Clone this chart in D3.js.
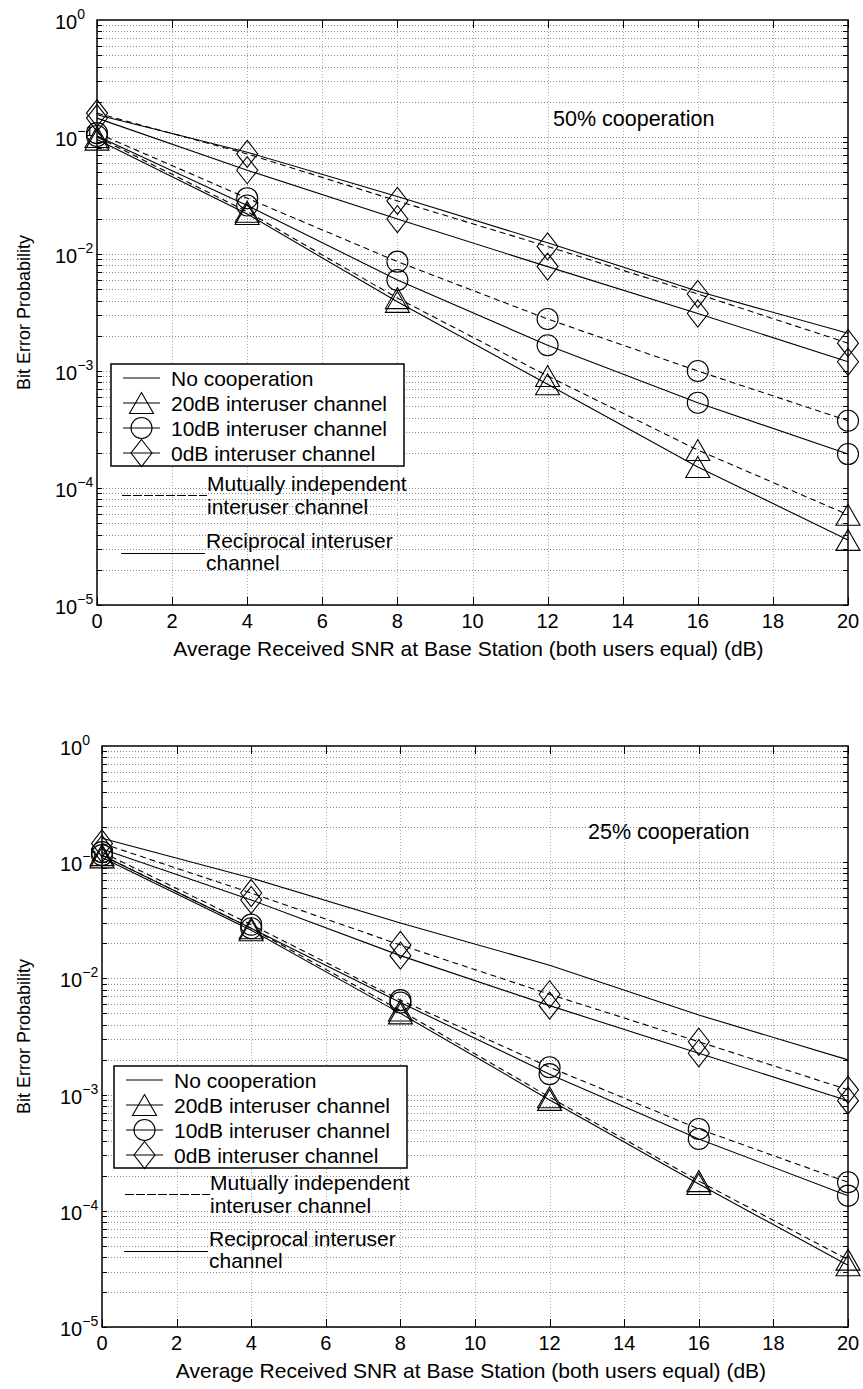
<!DOCTYPE html>
<html>
<head>
<meta charset="utf-8">
<script src="https://cdn.jsdelivr.net/npm/d3@7"></script>
<style>
  body { margin: 0; background: #fff; }
  svg text { font-family: "Liberation Sans", Arial, Helvetica, sans-serif; fill: #000; }
</style>
</head>
<body>
<div id="chart"></div>
<script>
// x values (SNR in dB) where markers sit
var snr = [0, 4, 8, 12, 16, 20];
var xTicks = [0, 2, 4, 6, 8, 10, 12, 14, 16, 18, 20];
var yExponents = [0, -1, -2, -3, -4, -5];

// 50% cooperation (top panel)
var noCoop50 = [0.155, 0.074, 0.031, 0.0125, 0.0048, 0.0021];
var ind0dB50 = [0.16, 0.0717, 0.0284, 0.0116, 0.00455, 0.00173];
var rec0dB50 = [0.145, 0.052, 0.0199, 0.0078, 0.0031, 0.0012];
var ind10dB50 = [0.108, 0.030, 0.0086, 0.00278, 0.0010, 0.000376];
var rec10dB50 = [0.102, 0.026, 0.0060, 0.00166, 0.000536, 0.000195];
var ind20dB50 = [0.100, 0.023, 0.0042, 0.000906, 0.000211, 0.000059];
var rec20dB50 = [0.095, 0.022, 0.0039, 0.00077, 0.000151, 0.000036];

// 25% cooperation (bottom panel)
var noCoop25 = [0.161, 0.073, 0.030, 0.013, 0.00484, 0.00199];
var ind0dB25 = [0.145, 0.0543, 0.0194, 0.0073, 0.00285, 0.0011];
var rec0dB25 = [0.13, 0.0473, 0.0157, 0.00583, 0.00227, 0.000886];
var ind10dB25 = [0.122, 0.029, 0.0065, 0.00172, 0.000506, 0.000176];
var rec10dB25 = [0.115, 0.027, 0.0062, 0.0015, 0.000415, 0.000135];
var ind20dB25 = [0.115, 0.027, 0.0053, 0.00095, 0.00018, 0.000038];
var rec20dB25 = [0.11, 0.026, 0.0050, 0.0009, 0.00017, 0.000034];

var legendNames = ['No cooperation', '20dB interuser channel', '10dB interuser channel', '0dB interuser channel'];
var legendMarks = ['none', 'triangle', 'circle', 'diamond'];

var svgWidth = 863, svgHeight = 1389;
var svg = d3.select('#chart').append('svg').attr('width', svgWidth).attr('height', svgHeight);

function markerPath(kind) {
  if (kind == 'triangle') return 'M0,-10.5L12,10.5L-12,10.5Z';
  if (kind == 'diamond') return 'M0,-13.5L10.5,0L0,13.5L-10.5,0Z';
  if (kind == 'circle') return 'M-10.5,0A10.5,10.5 0 1,0 10.5,0A10.5,10.5 0 1,0 -10.5,0Z';
  return '';
}

function drawPanel(p) {
  var g = svg.append('g');
  var x = d3.scaleLinear().domain([0, 20]).range([p.left, p.right]);
  var y = d3.scaleLog().domain([1e-5, 1]).range([p.bottom, p.top]);

  // grid: dotted
  var minor = [];
  for (var e = -5; e < 0; e++) {
    for (var k = 1; k < 10; k++) minor.push(k * Math.pow(10, e));
  }
  g.append('g').selectAll('line').data(minor).enter().append('line')
    .attr('x1', p.left).attr('x2', p.right)
    .attr('y1', function(d){ return Math.round(y(d)) + 0.5; }).attr('y2', function(d){ return Math.round(y(d)) + 0.5; })
    .attr('stroke', '#888').attr('stroke-width', 1).attr('stroke-dasharray', '1,2');
  g.append('g').selectAll('line').data(xTicks.slice(1, -1)).enter().append('line')
    .attr('x1', function(d){ return Math.round(x(d)) + 0.5; }).attr('x2', function(d){ return Math.round(x(d)) + 0.5; })
    .attr('y1', p.top).attr('y2', p.bottom)
    .attr('stroke', '#aaa').attr('stroke-width', 1).attr('stroke-dasharray', '1,2');

  // ticks, inside on all four sides
  var ticks = g.append('g').attr('stroke', '#000').attr('stroke-width', 1);
  xTicks.forEach(function(t){
    var xx = Math.round(x(t)) + 0.5;
    ticks.append('line').attr('x1', xx).attr('x2', xx).attr('y1', p.bottom).attr('y2', p.bottom - 8);
    ticks.append('line').attr('x1', xx).attr('x2', xx).attr('y1', p.top).attr('y2', p.top + 8);
  });
  minor.forEach(function(v){
    var yy = Math.round(y(v)) + 0.5;
    ticks.append('line').attr('x1', p.left).attr('x2', p.left + 5).attr('y1', yy).attr('y2', yy);
    ticks.append('line').attr('x1', p.right).attr('x2', p.right - 5).attr('y1', yy).attr('y2', yy);
  });

  // series lines
  var line = d3.line().x(function(d, i){ return x(snr[i]); }).y(function(d){ return y(d); });
  p.series.forEach(function(s){
    g.append('path').datum(s.values).attr('d', line)
      .attr('fill', 'none').attr('stroke', '#000').attr('stroke-width', 1.1)
      .attr('stroke-dasharray', s.dashed ? '6,4' : null);
    if (s.marker != 'none') {
      g.append('g').selectAll('path').data(s.values).enter().append('path')
        .attr('d', markerPath(s.marker))
        .attr('transform', function(d, i){ return 'translate(' + x(snr[i]) + ',' + y(d) + ')'; })
        .attr('fill', 'none').attr('stroke', '#000').attr('stroke-width', 1.1);
    }
  });

  // frame
  g.append('rect').attr('x', p.left).attr('y', p.top)
    .attr('width', p.right - p.left).attr('height', p.bottom - p.top)
    .attr('fill', 'none').attr('stroke', '#000').attr('stroke-width', 1.5);

  // tick labels
  g.append('g').selectAll('text').data(xTicks).enter().append('text')
    .attr('x', function(d){ return x(d); }).attr('y', p.bottom + 23)
    .attr('text-anchor', 'middle').attr('font-size', 20).text(function(d){ return d; });
  yExponents.forEach(function(ex){
    var t = g.append('text').attr('x', p.left - 42).attr('y', y(Math.pow(10, ex)) + 9).attr('font-size', 20);
    t.append('tspan').text('10');
    t.append('tspan').attr('dy', -10).attr('font-size', 14).text(ex == 0 ? '0' : '\u2212' + (-ex));
  });

  // axis titles
  g.append('text').attr('x', (p.left + p.right) / 2 - 4).attr('y', p.bottom + 51)
    .attr('text-anchor', 'middle').attr('font-size', 21)
    .text('Average Received SNR at Base Station (both users equal) (dB)');
  g.append('text').attr('transform', 'translate(30,' + (p.top + p.bottom) / 2 + ') rotate(-90)')
    .attr('text-anchor', 'middle').attr('font-size', 18).text('Bit Error Probability');

  // annotation
  g.append('text').attr('x', p.noteX).attr('y', p.noteY).attr('font-size', 21.5).text(p.note);

  // legend box
  var lx = p.left + p.legendDx, ly = p.legendTop;
  g.append('rect').attr('x', lx).attr('y', ly).attr('width', 293).attr('height', 102)
    .attr('fill', '#fff').attr('stroke', '#000').attr('stroke-width', 1.5);
  legendNames.forEach(function(name, i){
    var cy = ly + 14 + i * 25;
    g.append('line').attr('x1', lx + 12).attr('x2', lx + 49).attr('y1', cy).attr('y2', cy)
      .attr('stroke', '#000').attr('stroke-width', 1.1);
    if (legendMarks[i] != 'none') {
      g.append('path').attr('d', markerPath(legendMarks[i]))
        .attr('transform', 'translate(' + (lx + 30.5) + ',' + cy + ')')
        .attr('fill', 'none').attr('stroke', '#000').attr('stroke-width', 1.1);
    }
    g.append('text').attr('x', lx + 60).attr('y', cy + 7.5).attr('font-size', 21).text(name);
  });

  // line-style key under the legend
  var by = Math.round(ly + 102);
  g.append('line').attr('x1', lx + 11).attr('x2', lx + 96).attr('y1', by + p.keyDy[0] + 0.5).attr('y2', by + p.keyDy[0] + 0.5)
    .attr('stroke', '#000').attr('stroke-width', 1.2).attr('stroke-dasharray', '9,2');
  g.append('text').attr('x', lx + 96).attr('y', by + p.keyDy[0] - 4).attr('font-size', 21).text('Mutually independent');
  g.append('text').attr('x', lx + 96).attr('y', by + p.keyDy[0] + 19).attr('font-size', 21).text('interuser channel');
  g.append('line').attr('x1', lx + 10).attr('x2', lx + 94).attr('y1', by + p.keyDy[1] + 0.5).attr('y2', by + p.keyDy[1] + 0.5)
    .attr('stroke', '#000').attr('stroke-width', 1.1);
  g.append('text').attr('x', lx + 95).attr('y', by + p.keyDy[1] - 5).attr('font-size', 21).text('Reciprocal interuser');
  g.append('text').attr('x', lx + 95).attr('y', by + p.keyDy[1] + 17).attr('font-size', 21).text('channel');
}

drawPanel({
  left: 97, right: 848, top: 20, bottom: 605,
  note: '50% cooperation', noteX: 553, noteY: 126,
  legendDx: 14, legendTop: 364, keyDy: [29, 87],
  series: [
    {values: noCoop50, marker: 'none', dashed: false},
    {values: ind0dB50, marker: 'diamond', dashed: true},
    {values: rec0dB50, marker: 'diamond', dashed: false},
    {values: ind10dB50, marker: 'circle', dashed: true},
    {values: rec10dB50, marker: 'circle', dashed: false},
    {values: ind20dB50, marker: 'triangle', dashed: true},
    {values: rec20dB50, marker: 'triangle', dashed: false}
  ]
});

drawPanel({
  left: 102, right: 848, top: 746, bottom: 1327,
  note: '25% cooperation', noteX: 588, noteY: 839,
  legendDx: 12, legendTop: 1066, keyDy: [26, 83],
  series: [
    {values: noCoop25, marker: 'none', dashed: false},
    {values: ind0dB25, marker: 'diamond', dashed: true},
    {values: rec0dB25, marker: 'diamond', dashed: false},
    {values: ind10dB25, marker: 'circle', dashed: true},
    {values: rec10dB25, marker: 'circle', dashed: false},
    {values: ind20dB25, marker: 'triangle', dashed: true},
    {values: rec20dB25, marker: 'triangle', dashed: false}
  ]
});
</script>
</body>
</html>
